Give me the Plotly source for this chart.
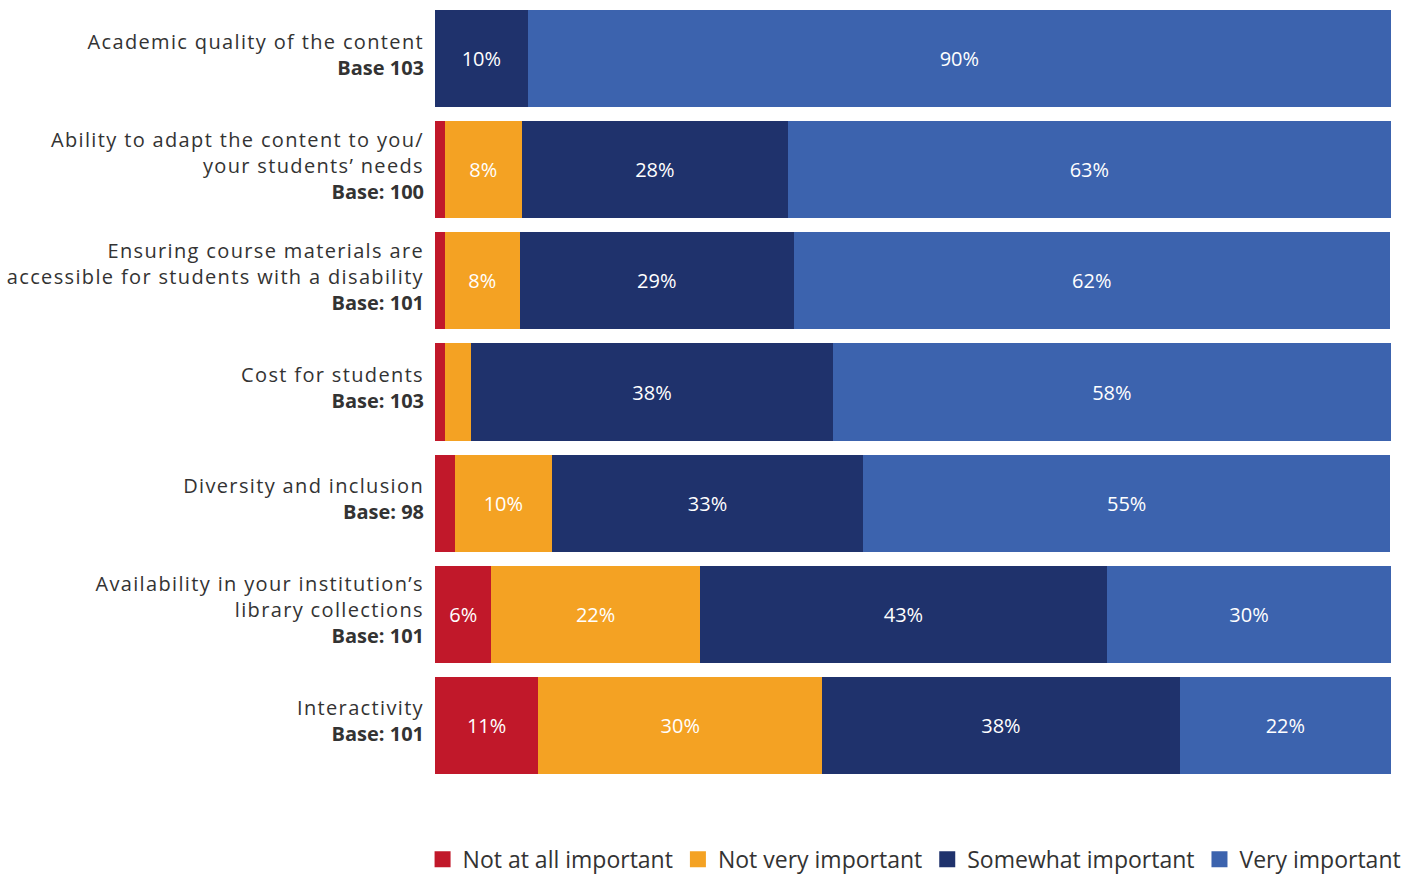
import plotly.graph_objects as go

category_names = [
    "Academic quality of the content",
    "Ability to adapt the content to you/<br>your students’ needs",
    "Ensuring course materials are<br>accessible for students with a disability",
    "Cost for students",
    "Diversity and inclusion",
    "Availability in your institution’s<br>library collections",
    "Interactivity",
]
bases = ["Base 103", "Base: 100", "Base: 101", "Base: 103", "Base: 98", "Base: 101", "Base: 101"]

series_names = ["Not at all important", "Not very important", "Somewhat important", "Very important"]
colors = ["#C1182A", "#F4A223", "#1F326C", "#3C63AE"]

not_at_all = [0.0, 1.0, 1.0, 1.0, 2.1, 5.9, 10.8]
not_very = [0.0, 8.1, 7.9, 2.8, 10.1, 21.8, 29.7]
somewhat = [9.7, 27.8, 28.6, 37.8, 32.6, 42.6, 37.4]
very = [90.3, 63.1, 62.4, 58.4, 55.1, 29.7, 22.1]

labels_not_at_all = ["", "", "", "", "", "6%", "11%"]
labels_not_very = ["", "8%", "8%", "", "10%", "22%", "30%"]
labels_somewhat = ["10%", "28%", "29%", "38%", "33%", "43%", "38%"]
labels_very = ["90%", "63%", "62%", "58%", "55%", "30%", "22%"]

values = [not_at_all, not_very, somewhat, very]
labels = [labels_not_at_all, labels_not_very, labels_somewhat, labels_very]


def styled(name, base):
    lines = name.split("<br>")
    spaced = "<br>".join(f'<span style="letter-spacing:1.35px">{ln}</span>' for ln in lines)
    return f"{spaced}<br><b>{base}</b>"


categories = [styled(n, b) for n, b in zip(category_names, bases)]

fig = go.Figure()
for name, col, vals, labs in zip(series_names, colors, values, labels):
    fig.add_trace(go.Bar(
        y=categories, x=vals, name=name, orientation="h",
        marker=dict(color=col, line=dict(width=0)),
        text=labs, textposition="inside", insidetextanchor="middle",
        textfont=dict(color="white", size=20, family="Open Sans"),
        constraintext="none",
        hoverinfo="x+name",
        legendgroup=name, showlegend=False,
    ))
    fig.add_trace(go.Scatter(
        x=[None], y=[None], mode="markers", name=name, legendgroup=name,
        marker=dict(symbol="square", size=18, color=col),
        showlegend=True, hoverinfo="skip",
    ))

fig.update_layout(
    barmode="stack",
    bargap=0.126,
    width=1409, height=875,
    margin=dict(l=435, r=18, t=3, b=94, autoexpand=False),
    paper_bgcolor="white", plot_bgcolor="white",
    font=dict(family="Open Sans", color="#333333", size=20),
    xaxis=dict(range=[0, 100], visible=False, showgrid=False, zeroline=False),
    yaxis=dict(autorange="reversed", showgrid=False, zeroline=False,
               ticks="", ticklabelstandoff=10, ticklabelshift=4, fixedrange=True,
               tickfont=dict(size=20, color="#333333", family="Open Sans")),
    legend=dict(orientation="h", x=-0.013, xanchor="left", y=-0.073, yanchor="top",
                font=dict(size=23, color="#333333", family="Open Sans"),
                itemwidth=30, itemsizing="trace", traceorder="normal"),
    showlegend=True,
)

fig.write_html("out.html")
